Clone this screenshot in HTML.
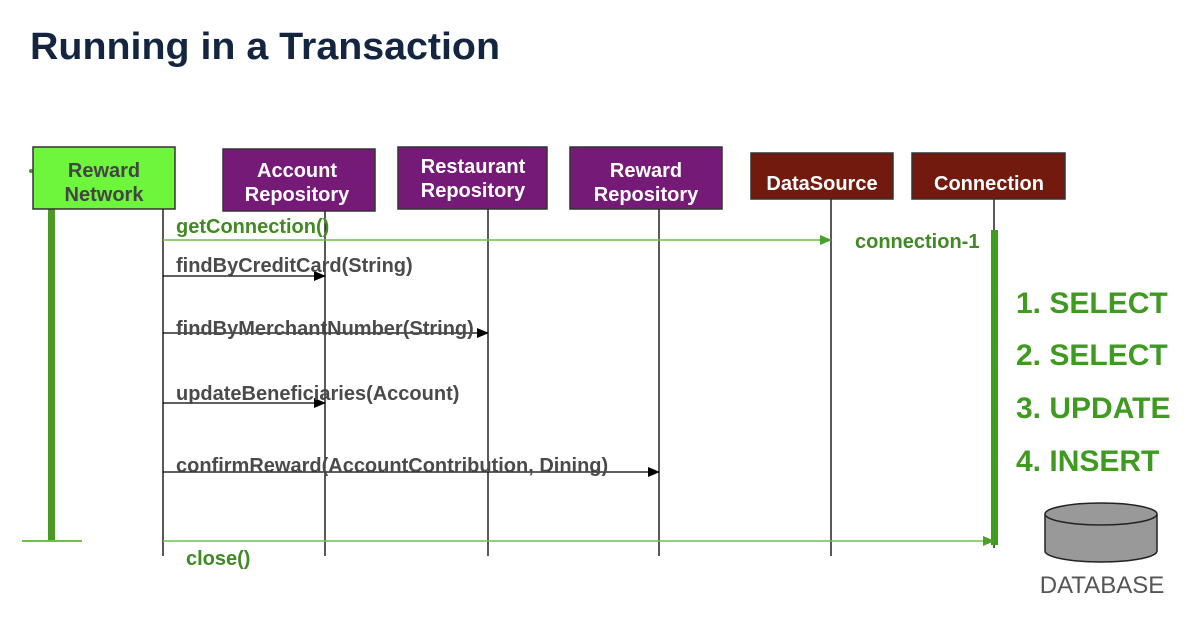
<!DOCTYPE html>
<html><head><meta charset="utf-8"><style>
html,body{margin:0;padding:0;background:#fff;}
svg{display:block;}
text{font-family:"Liberation Sans",Arial,sans-serif;}
</style></head><body>
<svg width="1184" height="617" viewBox="0 0 1184 617" xmlns="http://www.w3.org/2000/svg">
<defs>
<marker id="ab" markerWidth="12" markerHeight="10" refX="11" refY="5" orient="auto" markerUnits="userSpaceOnUse"><path d="M0,0 L12,5 L0,10 z" fill="#000"/></marker>
<marker id="ag" markerWidth="12" markerHeight="10" refX="11" refY="5" orient="auto" markerUnits="userSpaceOnUse"><path d="M0,0 L12,5 L0,10 z" fill="#4aa02c"/></marker>
</defs>
<text x="30" y="59" font-size="38" font-weight="bold" fill="#13253f" textLength="470" lengthAdjust="spacingAndGlyphs">Running in a Transaction</text>

<g stroke="#000" stroke-width="1.3">
<line x1="163" y1="209" x2="163" y2="556"/>
<line x1="325" y1="211" x2="325" y2="556"/>
<line x1="488" y1="209" x2="488" y2="556"/>
<line x1="659" y1="209" x2="659" y2="556"/>
<line x1="831" y1="199" x2="831" y2="556"/>
<line x1="994" y1="199" x2="994" y2="548"/>
</g>
<rect x="48" y="209" width="7" height="332" fill="#4a9a24"/>
<line x1="22" y1="541" x2="82" y2="541" stroke="#6cbf4a" stroke-width="2"/>
<circle cx="31" cy="171" r="2" fill="#4a9a24"/>
<rect x="991" y="230" width="7" height="315" fill="#3f9a20"/>

<rect x="33" y="147" width="142" height="62" fill="#6ef63d" stroke="#333" stroke-width="1.5"/>
<text x="104" y="177" font-size="20" font-weight="bold" fill="#444" text-anchor="middle">Reward</text>
<text x="104" y="201" font-size="20" font-weight="bold" fill="#444" text-anchor="middle">Network</text>
<rect x="223" y="149" width="152" height="62" fill="#761a77" stroke="#333" stroke-width="1.5"/>
<text x="297" y="177" font-size="20" font-weight="bold" fill="#fff" text-anchor="middle">Account</text>
<text x="297" y="201" font-size="20" font-weight="bold" fill="#fff" text-anchor="middle">Repository</text>
<rect x="398" y="147" width="149" height="62" fill="#761a77" stroke="#333" stroke-width="1.5"/>
<text x="473" y="173" font-size="20" font-weight="bold" fill="#fff" text-anchor="middle">Restaurant</text>
<text x="473" y="197" font-size="20" font-weight="bold" fill="#fff" text-anchor="middle">Repository</text>
<rect x="570" y="147" width="152" height="62" fill="#761a77" stroke="#333" stroke-width="1.5"/>
<text x="646" y="177" font-size="20" font-weight="bold" fill="#fff" text-anchor="middle">Reward</text>
<text x="646" y="201" font-size="20" font-weight="bold" fill="#fff" text-anchor="middle">Repository</text>
<rect x="751" y="153" width="142" height="46" fill="#731a0e" stroke="#333" stroke-width="1.5"/>
<text x="822" y="190" font-size="20" font-weight="bold" fill="#fff" text-anchor="middle">DataSource</text>
<rect x="912" y="153" width="153" height="46" fill="#731a0e" stroke="#333" stroke-width="1.5"/>
<text x="989" y="190" font-size="20" font-weight="bold" fill="#fff" text-anchor="middle">Connection</text>

<line x1="163" y1="240" x2="831" y2="240" stroke="#6cbf4a" stroke-width="1.5" marker-end="url(#ag)"/>
<text x="176" y="233" font-size="20" font-weight="bold" fill="#3f8a22">getConnection()</text>
<text x="855" y="248" font-size="20" font-weight="bold" fill="#3f8a22">connection-1</text>

<g stroke="#000" stroke-width="1.3">
<line x1="163" y1="276" x2="325" y2="276" marker-end="url(#ab)"/>
<line x1="163" y1="333" x2="488" y2="333" marker-end="url(#ab)"/>
<line x1="163" y1="403" x2="325" y2="403" marker-end="url(#ab)"/>
<line x1="163" y1="472" x2="659" y2="472" marker-end="url(#ab)"/>
</g>
<g font-size="20" font-weight="bold" fill="#4a4a4a">
<text x="176" y="272">findByCreditCard(String)</text>
<text x="176" y="335">findByMerchantNumber(String)</text>
<text x="176" y="400">updateBeneficiaries(Account)</text>
<text x="176" y="472">confirmReward(AccountContribution, Dining)</text>
</g>

<line x1="163" y1="541" x2="994" y2="541" stroke="#6cbf4a" stroke-width="1.5" marker-end="url(#ag)"/>
<text x="186" y="565" font-size="20" font-weight="bold" fill="#3f8a22">close()</text>

<g font-size="30" font-weight="bold" fill="#3f9a20">
<text x="1016" y="313">1. SELECT</text>
<text x="1016" y="365">2. SELECT</text>
<text x="1016" y="418">3. UPDATE</text>
<text x="1016" y="471">4. INSERT</text>
</g>

<path d="M1045,514 L1045,551 A56,11 0 0 0 1157,551 L1157,514" fill="#999" stroke="#222" stroke-width="1.5"/>
<ellipse cx="1101" cy="514" rx="56" ry="11" fill="#999" stroke="#222" stroke-width="1.5"/>
<text x="1102" y="593" font-size="24" fill="#555" text-anchor="middle">DATABASE</text>
</svg>
</body></html>
